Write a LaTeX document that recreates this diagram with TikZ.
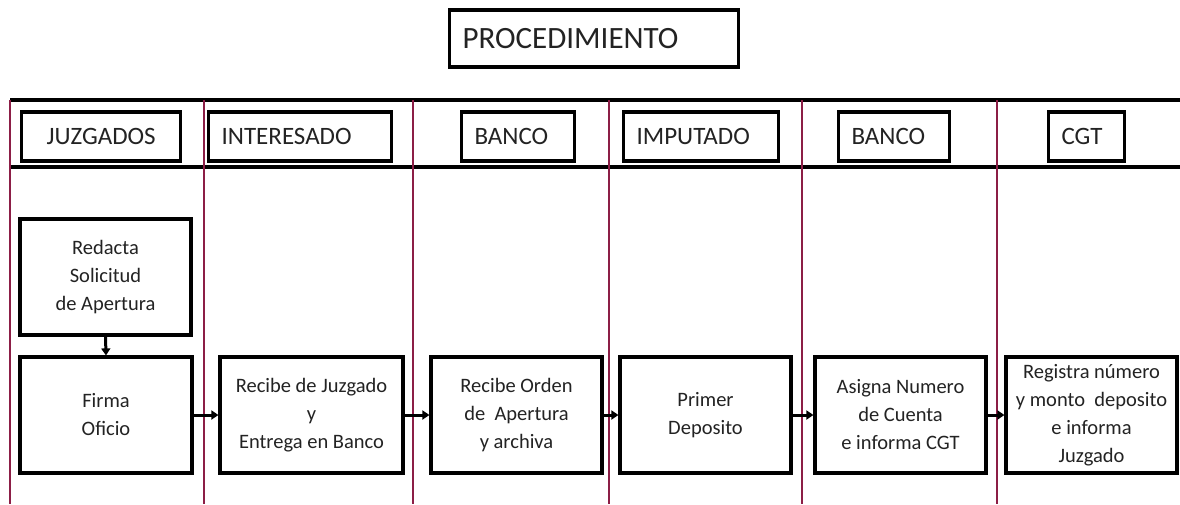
\documentclass[tikz,border=0pt]{standalone}
\usepackage{fontspec}
\setmainfont{Carlito}
\usetikzlibrary{arrows.meta}
\definecolor{lane}{RGB}{140,30,70}
\definecolor{txt}{RGB}{35,35,35}
\tikzset{
  hdr/.style={draw, line width=3.2pt, font=\fontsize{25}{28}\selectfont, text=txt,
    inner xsep=13pt, inner ysep=0pt, minimum height=49pt, align=left, anchor=west},
  stepbox/.style={draw, line width=3.2pt, font=\fontsize{20.5}{28}\selectfont, text=txt,
    minimum height=116pt, align=center, inner sep=2pt},
  lanesep/.style={draw=lane, line width=2.2pt},
  band/.style={draw=black, line width=3.6pt},
  flow/.style={draw=black, line width=3pt, -{Triangle[length=7pt,width=9pt]}}
}
\begin{document}
\begin{tikzpicture}[x=1pt,y=-1pt]
\useasboundingbox (0,0) rectangle (1180,504);
\fill[white] (0,0) rectangle (1180,504);
% title
\node[hdr, font=\fontsize{31}{34}\selectfont, minimum height=57pt, text width=263pt, inner xsep=13pt] (title) at (448,38.5) {PROCEDIMIENTO};
% bands
\coordinate (bl1) at (10,100); \coordinate (br1) at (1180,100);
\coordinate (bl2) at (10,167); \coordinate (br2) at (1180,167);
\draw[band] (bl1) -- (br1);
\draw[band] (bl2) -- (br2);
% lane separators
\foreach \n/\x in {a/10,b/204,c/413,d/609,e/802,f/997}{
  \coordinate (t\n) at (\x,100);
  \coordinate (u\n) at (\x,504);
  \draw[lanesep] (t\n) -- (u\n);
}
% headers
\node[hdr, text width=133pt, align=center] (h1) at (20,136.5) {JUZGADOS};
\node[hdr, text width=157pt] (h2) at (207,136.5) {INTERESADO};
\node[hdr, text width=87pt] (h3) at (460,136.5) {BANCO};
\node[hdr, text width=129pt] (h4) at (622,136.5) {IMPUTADO};
\node[hdr, text width=85pt] (h5) at (837,136.5) {BANCO};
\node[hdr, text width=50pt] (h6) at (1047,136.5) {CGT};
% steps
\node[stepbox, minimum width=171pt] (s0) at (105.5,277) {Redacta\\Solicitud\\de Apertura};
\node[stepbox, minimum width=172pt] (s1) at (106,415) {Firma\\Oficio};
\node[stepbox, minimum width=183pt] (s2) at (311.5,415) {Recibe de Juzgado\\y\\Entrega en Banco};
\node[stepbox, minimum width=171pt] (s3) at (516.5,415) {Recibe Orden\\de~~Apertura\\y archiva};
\node[stepbox, minimum width=171pt] (s4) at (705.5,415) {Primer\\Deposito};
\node[stepbox, minimum width=171pt] (s5) at (900.5,415) {Asigna Numero\\de Cuenta\\e informa CGT};
\node[stepbox, minimum width=171pt] (s6) at (1091.5,415) {Registra número\\y monto~~deposito\\e informa\\Juzgado};
% flows
\draw[flow] (s0.south) -- (s1.north);
\draw[flow] (s1.east) -- (s2.west);
\draw[flow] (s2.east) -- (s3.west);
\draw[flow] (s3.east) -- (s4.west);
\draw[flow] (s4.east) -- (s5.west);
\draw[flow] (s5.east) -- (s6.west);
\end{tikzpicture}
\end{document}
